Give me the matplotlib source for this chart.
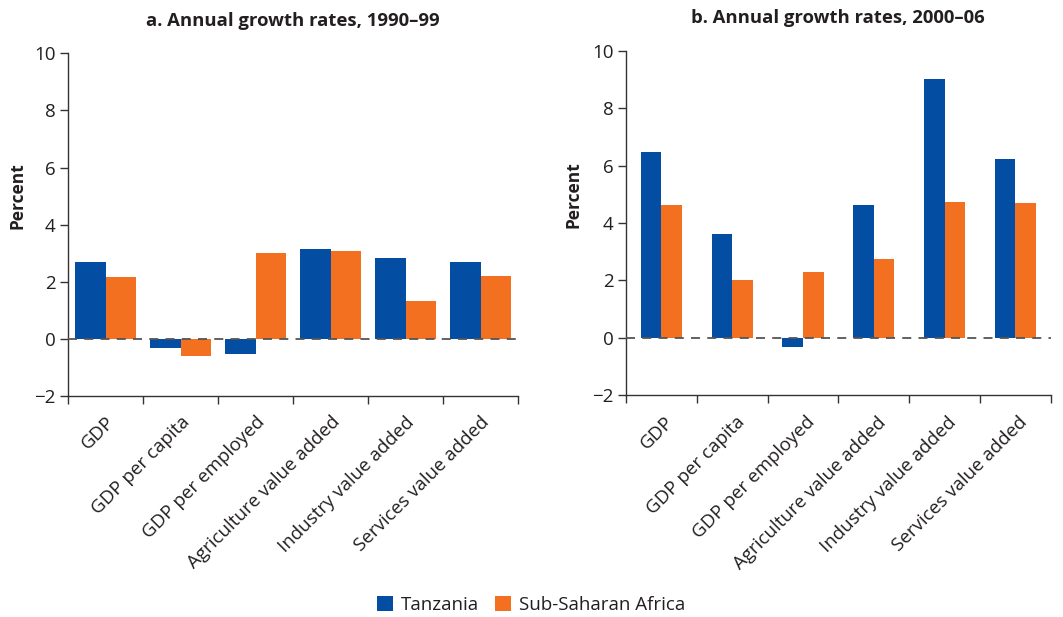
import numpy as np
import matplotlib
matplotlib.use("Agg")
import matplotlib.pyplot as plt
from matplotlib.patches import Patch
from matplotlib import transforms

plt.rcParams['font.family'] = ['Open Sans', 'DejaVu Sans']

categories = ["GDP", "GDP per capita", "GDP per employed",
              "Agriculture value added", "Industry value added",
              "Services value added"]
series_names = ["Tanzania", "Sub-Saharan Africa"]

# Annual growth rates, percent
tanzania_1990s = [2.68, -0.31, -0.52, 3.14, 2.82, 2.68]
ssa_1990s = [2.16, -0.59, 3.00, 3.07, 1.32, 2.19]
tanzania_2000s = [6.47, 3.61, -0.31, 4.62, 9.01, 6.22]
ssa_2000s = [4.62, 2.01, 2.29, 2.74, 4.73, 4.69]

titles = ["a. Annual growth rates, 1990\u201399", "b. Annual growth rates, 2000\u201306"]
y_ticks = [-2, 0, 2, 4, 6, 8, 10]

BLUE = "#034EA2"
ORANGE = "#F37021"
INK = "#231F20"
SPINE = "#333333"

W, H = 1063, 617
fig = plt.figure(figsize=(W / 100, H / 100), dpi=100)

def axes_box(x0, x1, ytop, ybot):
    return [x0 / W, 1 - ybot / H, (x1 - x0) / W, (ybot - ytop) / H]

ax_a = fig.add_axes(axes_box(68, 518, 53.3, 396))
ax_b = fig.add_axes(axes_box(626, 1050.7, 50.7, 395.3))

# (axes, series, series, bar width, title, label x shift px, label drop px, ylabel x px)
panels = [
    (ax_a, tanzania_1990s, ssa_1990s, 0.41, titles[0], 0, 17, 17),
    (ax_b, tanzania_2000s, ssa_2000s, 0.292, titles[1], 3, 18, 573),
]

x = np.arange(len(categories))
for ax, tz, ssa, width, title, lab_dx, lab_dy, ylab_x in panels:
    ax.bar(x - width / 2, tz, width, color=BLUE, zorder=2)
    ax.bar(x + width / 2, ssa, width, color=ORANGE, zorder=2)
    ax.axhline(0, color="#555555", lw=1.3, dashes=(5, 4), zorder=3)

    ax.set_xlim(-0.5, len(categories) - 0.5)
    ax.set_ylim(-2, 10)
    ax.set_yticks(y_ticks)
    ax.set_yticklabels(["\u22122" if v < 0 else str(v) for v in y_ticks])

    # boundary ticks between categories; category names drawn at the centres
    ax.set_xticks(np.arange(len(categories) + 1) - 0.5)
    ax.set_xticklabels([])
    label_tf = (transforms.blended_transform_factory(ax.transData, ax.transAxes)
                + transforms.ScaledTranslation(lab_dx / 100, -lab_dy / 100,
                                               fig.dpi_scale_trans))
    for xi, name in zip(x, categories):
        ax.text(xi, 0, name, transform=label_tf, rotation=45, ha="right",
                va="top", rotation_mode="anchor", fontsize=13.5, color=INK,
                clip_on=False)

    ax.tick_params(axis="x", length=6, width=1, color=SPINE, direction="out")
    ax.tick_params(axis="y", length=6, width=1, color=SPINE, direction="out",
                   labelsize=13.5, labelcolor=INK, pad=3)

    for side in ("top", "right"):
        ax.spines[side].set_visible(False)
    for side in ("left", "bottom"):
        ax.spines[side].set_color(SPINE)
        ax.spines[side].set_linewidth(1)

    # axis title centred on the positive part of the scale
    y_mid = ax.transData.transform((0, 5))[1]
    fig.text(ylab_x / W, y_mid / H, "Percent", rotation=90, ha="center",
             va="center", fontsize=12.5, fontweight="bold", color=INK)
    ax.set_title(title, fontsize=13.3, fontweight="bold", color=INK, pad=20)

handles = [Patch(facecolor=BLUE), Patch(facecolor=ORANGE)]
fig.legend(handles, series_names, loc="center", bbox_to_anchor=(0.5, 1 - 605 / H),
           ncol=2, frameon=False, fontsize=13.5, handlelength=0.85,
           handleheight=0.85, handletextpad=0.43, columnspacing=0.85,
           labelcolor=INK)

fig.savefig("out.png", dpi=100)
